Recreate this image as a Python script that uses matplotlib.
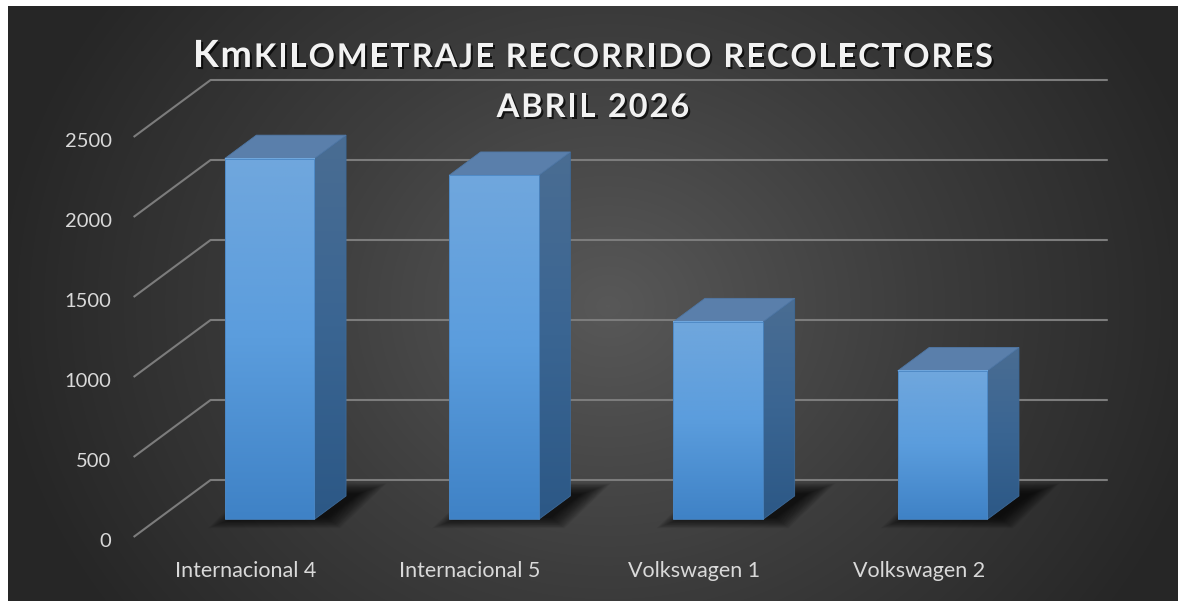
import numpy as np
import matplotlib
matplotlib.use("Agg")
import matplotlib.pyplot as plt
import matplotlib.patheffects as pe
from matplotlib.patches import Polygon
from matplotlib.transforms import IdentityTransform, ScaledTranslation
from matplotlib.colors import LinearSegmentedColormap

# datos
categorias = ["Internacional 4", "Internacional 5", "Volkswagen 1", "Volkswagen 2"]
kilometros = [2255, 2150, 1235, 928]
ticks_y = [0, 500, 1000, 1500, 2000, 2500]
titulo_inicio = "Km"
titulo = "KILOMETRAJE RECORRIDO RECOLECTORES"
subtitulo = "ABRIL 2026"

W, H = 1183, 601
fig = plt.figure(figsize=(W / 100, H / 100), dpi=100, facecolor="white")

# fondo oscuro con degradado radial
bg = fig.add_axes([8 / W, 0, 1170 / W, 595 / H])
bg.set_axis_off()
yy, xx = np.mgrid[0:595, 0:1170]
r = np.hypot(xx - 600, (yy - 300) * 1.15)
fondo = LinearSegmentedColormap.from_list("fondo", ["#585858", "#3d3d3d", "#262626"])
bg.imshow(r, cmap=fondo, vmin=0, vmax=620, aspect="auto", interpolation="bilinear")

# ejes del plano frontal (x = categoria, y = km)
ax = fig.add_axes([133.6 / W, 64 / H, 897.2 / W, 400 / H])
ax.set_xlim(-0.5, 3.5)
ax.set_ylim(0, 2500)
ax.set_autoscale_on(False)
ax.set_axis_off()

DX, DY = 77, 57      # profundidad (pixeles)
F0, F1 = 0.31, 0.72  # cara frontal / trasera de las barras
ANCHO = 0.40
idt = IdentityTransform()


def punto(x, v, f):
    px, py = ax.transData.transform((x, v))
    return (px + f * DX, py + f * DY)


def desplazar(dx, dy):
    return ax.transData + ScaledTranslation(dx / 100, dy / 100, fig.dpi_scale_trans)


# rejilla de la pared del fondo y lineas diagonales
gris = "#7c7c7c"
for v in ticks_y:
    a = punto(-0.5, v, 1)
    b = punto(3.5, v, 1)
    c = punto(-0.5, v, 0)
    ax.plot([c[0], a[0], b[0]], [c[1], a[1], b[1]], color=gris, lw=1.5,
            transform=idt, clip_on=False, zorder=1, solid_capstyle="butt")
    ax.text(-0.5, v, str(v), transform=desplazar(-22, -10), ha="right", va="baseline",
            fontsize=14.5, family="Lato", color="#d9d9d9")

cmap_frente = LinearSegmentedColormap.from_list("frente", ["#3f82c6", "#5b9ddd", "#70a7dd"])
cmap_lado = LinearSegmentedColormap.from_list("lado", ["#2c5886", "#3a6592", "#4a6d93"])
grad = np.linspace(0, 1, 256).reshape(-1, 1)

for i, (nombre, v) in enumerate(zip(categorias, kilometros)):
    x0, x1 = i - ANCHO / 2, i + ANCHO / 2

    # sombra difusa en el piso
    base = np.array([punto(x0, 0, F0), punto(x1, 0, F0), punto(x1, 0, F1), punto(x0, 0, F1)])
    medio = base.mean(axis=0)
    centro = medio + np.array([12, 2])
    for k in range(18):
        ex = 1 + k * 1.7 / 61
        ey = 1 + k * 0.65 / 12
        poly = (base - medio) * np.array([ex, ey]) + centro
        ax.add_patch(Polygon(poly, closed=True, transform=idt, facecolor="black",
                             edgecolor="none", alpha=0.055, clip_on=False, zorder=2))

    # cara lateral
    lado = [punto(x1, 0, F0), punto(x1, 0, F1), punto(x1, v, F1), punto(x1, v, F0)]
    p_lado = Polygon(lado, closed=True, transform=idt, facecolor="none",
                     edgecolor="#3d6a99", lw=0.6, zorder=4, clip_on=False)
    ax.add_patch(p_lado)
    xs = [p[0] for p in lado]
    ys = [p[1] for p in lado]
    im = ax.imshow(grad, cmap=cmap_lado, origin="lower", aspect="auto",
                   extent=[min(xs), max(xs), min(ys), max(ys)], transform=idt, zorder=3)
    im.set_clip_box(fig.bbox)
    im.set_clip_path(p_lado)

    # cara superior
    arriba = [punto(x0, v, F0), punto(x1, v, F0), punto(x1, v, F1), punto(x0, v, F1)]
    ax.add_patch(Polygon(arriba, closed=True, transform=idt, facecolor="#5a7fab",
                         edgecolor="#4f77a5", lw=0.6, zorder=4, clip_on=False))

    # cara frontal
    a = punto(x0, 0, F0)
    b = punto(x1, v, F0)
    im = ax.imshow(grad, cmap=cmap_frente, origin="lower", aspect="auto",
                   extent=[a[0], b[0], a[1], b[1]], transform=idt, zorder=5)
    im.set_clip_box(fig.bbox)
    ax.add_patch(Polygon([a, (b[0], a[1]), b, (a[0], b[1])], closed=True, transform=idt,
                         facecolor="none", edgecolor="#4a86c3", lw=0.6, zorder=6, clip_on=False))

    # etiqueta de categoria
    ax.text(i, 0, nombre, transform=desplazar(0, -40), ha="center", va="baseline",
            fontsize=15.5, family="Lato", color="#d9d9d9")

# titulo con espaciado entre letras
sombra = [pe.withSimplePatchShadow(offset=(1.5, -1.5), shadow_rgbFace="black", alpha=0.7)]
renderer = fig.canvas.get_renderer()
T_GRANDE, T_CHICO = 27, 23.5


def piezas(texto, grande=""):
    res = [(c, T_GRANDE) for c in grande] + [(c, T_CHICO) for c in texto]
    anchos = []
    for c, t in res:
        if c == " ":
            anchos.append(t * 1.389 * 0.25)
        else:
            tx = fig.text(0, 0, c, fontsize=t, weight="bold", family="Lato")
            anchos.append(tx.get_window_extent(renderer).width)
            tx.remove()
    return res, anchos


def escribir(res, anchos, x_izq, y_base, sep):
    x = x_izq
    for (c, t), w in zip(res, anchos):
        if c != " ":
            fig.text(x / W, 1 - y_base / H, c, ha="left", va="baseline", fontsize=t,
                     weight="bold", family="Lato", color="#f2f2f2", path_effects=sombra)
        x += w + sep


res1, anc1 = piezas(titulo, titulo_inicio)
sep = (800 - sum(anc1)) / (len(res1) - 1)
escribir(res1, anc1, 193, 67, sep)
res2, anc2 = piezas(subtitulo)
ancho2 = sum(anc2) + sep * (len(res2) - 1)
escribir(res2, anc2, 593 - ancho2 / 2, 117, sep)

fig.savefig("out.png", dpi=100, facecolor="white")
